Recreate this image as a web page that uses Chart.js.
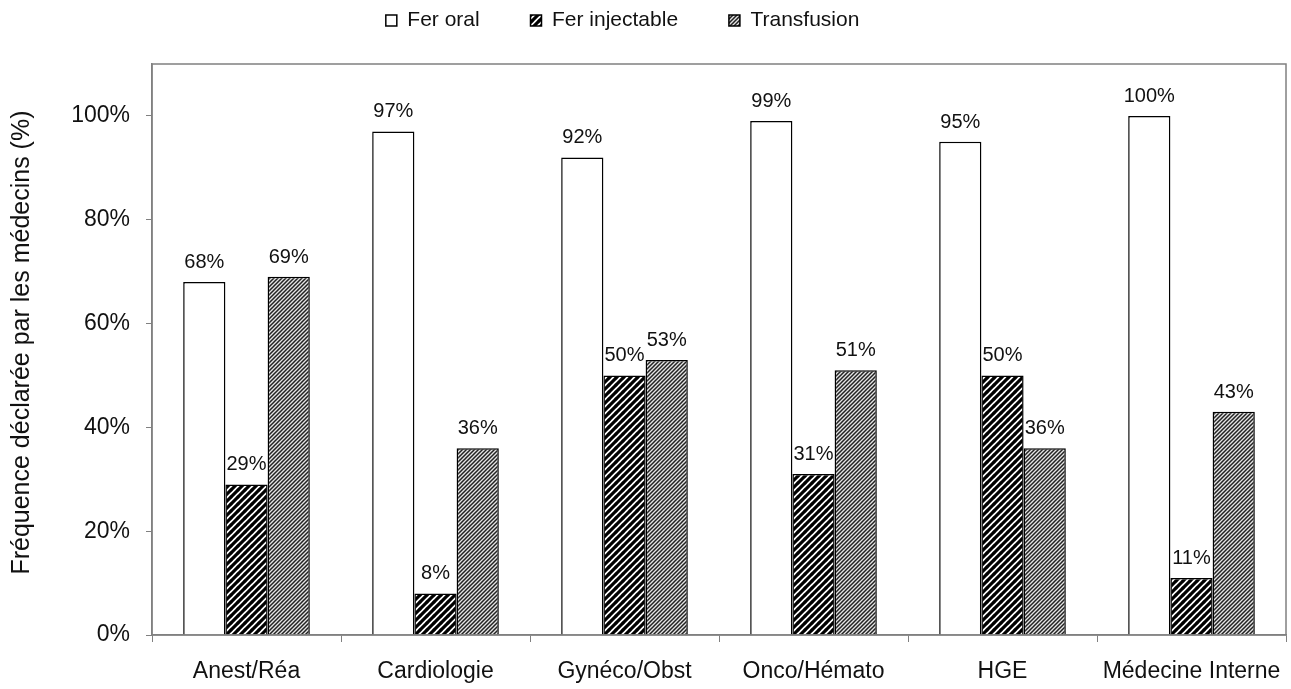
<!DOCTYPE html>
<html>
<head>
<meta charset="utf-8">
<script src="https://cdn.jsdelivr.net/npm/chart.js@4"></script>
<style>
  html, body { margin: 0; padding: 0; background: #fff; }
  #wrap { width: 1291px; height: 689px; }
</style>
</head>
<body>
<div id="wrap"><canvas id="chart" width="1291" height="689"></canvas></div>
<script>
// data
const categories = ['Anest/Réa', 'Cardiologie', 'Gynéco/Obst', 'Onco/Hémato', 'HGE', 'Médecine Interne'];
const ferOral = [68, 97, 92, 99, 95, 100];
const ferInjectable = [29, 8, 50, 31, 50, 11];
const transfusion = [69, 36, 53, 51, 36, 43];
const seriesNames = ['Fer oral', 'Fer injectable', 'Transfusion'];
const yTicks = [0, 20, 40, 60, 80, 100];

const FONT = '"Liberation Sans", Arial, sans-serif';

// hatch patterns
function makeHatch(size, bg, fg, lw) {
    const c = document.createElement('canvas');
    c.width = size; c.height = size;
    const g = c.getContext('2d');
    g.fillStyle = bg;
    g.fillRect(0, 0, size, size);
    g.strokeStyle = fg;
    g.lineWidth = lw;
    g.beginPath();
    g.moveTo(-1, 1); g.lineTo(1, -1);
    g.moveTo(0, size); g.lineTo(size, 0);
    g.moveTo(size - 1, size + 1); g.lineTo(size + 1, size - 1);
    g.stroke();
    return g.createPattern(c, 'repeat');
}
const ctx = document.getElementById('chart').getContext('2d');
const blackHatch = makeHatch(7, '#fff', '#000', 3.2);
const greyHatch = makeHatch(4, '#e4e4e4', '#222', 1.5);

// frame around the plot area + fixed legend height
const frame = {
    id: 'frame',
    afterInit(chart) {
        const lg = chart.legend;
        const fit = lg.fit;
        lg.fit = function () { fit.call(this); this.height = 64; };
    },
    afterDraw(chart) {
        const a = chart.chartArea, g = chart.ctx;
        g.save();
        g.strokeStyle = '#808080';
        g.lineWidth = 1.5;
        g.strokeRect(a.left, a.top, a.right - a.left, a.bottom - a.top);
        g.restore();
    }
};

// value labels above bars
const valueLabels = {
    id: 'valueLabels',
    afterDatasetsDraw(chart) {
        const g = chart.ctx;
        g.save();
        g.font = '20px ' + FONT;
        g.fillStyle = '#111';
        g.textAlign = 'center';
        g.textBaseline = 'alphabetic';
        chart.data.datasets.forEach((ds, i) => {
            chart.getDatasetMeta(i).data.forEach((bar, j) => {
                g.fillText(ds.data[j] + '%', bar.x, bar.y - 14);
            });
        });
        g.restore();
    }
};

new Chart(ctx, {
    type: 'bar',
    data: {
        labels: categories,
        datasets: [
            { label: seriesNames[0], data: ferOral, backgroundColor: '#fff', borderColor: '#000', borderWidth: 1.5 },
            { label: seriesNames[1], data: ferInjectable, backgroundColor: blackHatch, borderColor: '#000', borderWidth: 1.5 },
            { label: seriesNames[2], data: transfusion, backgroundColor: greyHatch, borderColor: '#000', borderWidth: 1.5 }
        ]
    },
    options: {
        responsive: false,
        animation: false,
        datasets: { bar: { categoryPercentage: 0.67, barPercentage: 1 } },
        layout: { padding: { top: 0, right: 5, bottom: 0, left: 0 } },
        scales: {
            x: {
                afterFit(axis) { axis.height = 54; axis.paddingLeft = 0; axis.paddingRight = 0; },
                grid: { display: true, offset: true, drawOnChartArea: false, tickLength: 7, color: '#808080' },
                border: { color: '#808080', width: 1.5 },
                ticks: { color: '#111', font: { size: 23, family: FONT }, padding: 16 }
            },
            y: {
                min: 0,
                max: 110,
                afterBuildTicks(axis) { axis.ticks = yTicks.map(v => ({ value: v })); },
                afterFit(axis) { axis.width = 152; },
                grid: { drawOnChartArea: false, tickLength: 6, color: '#808080' },
                border: { color: '#808080', width: 1.5 },
                ticks: {
                    color: '#111',
                    font: { size: 23, family: FONT },
                    padding: 16,
                    callback: v => v + '%'
                },
                title: {
                    display: true,
                    text: '  Fréquence déclarée par les médecins (%)',
                    color: '#111',
                    font: { size: 25, family: FONT },
                    padding: { top: 7, bottom: 10 }
                }
            }
        },
        plugins: {
            legend: {
                position: 'top',
                labels: {
                    boxWidth: 11,
                    boxHeight: 11,
                    padding: 10,
                    color: '#111',
                    font: { size: 21, family: FONT },
                    generateLabels(chart) {
                        const items = Chart.defaults.plugins.legend.labels.generateLabels(chart);
                        items.forEach(it => { it.text = it.text + '       '; });
                        return items;
                    }
                }
            },
            tooltip: { enabled: false }
        }
    },
    plugins: [frame, valueLabels]
});
</script>
</body>
</html>
